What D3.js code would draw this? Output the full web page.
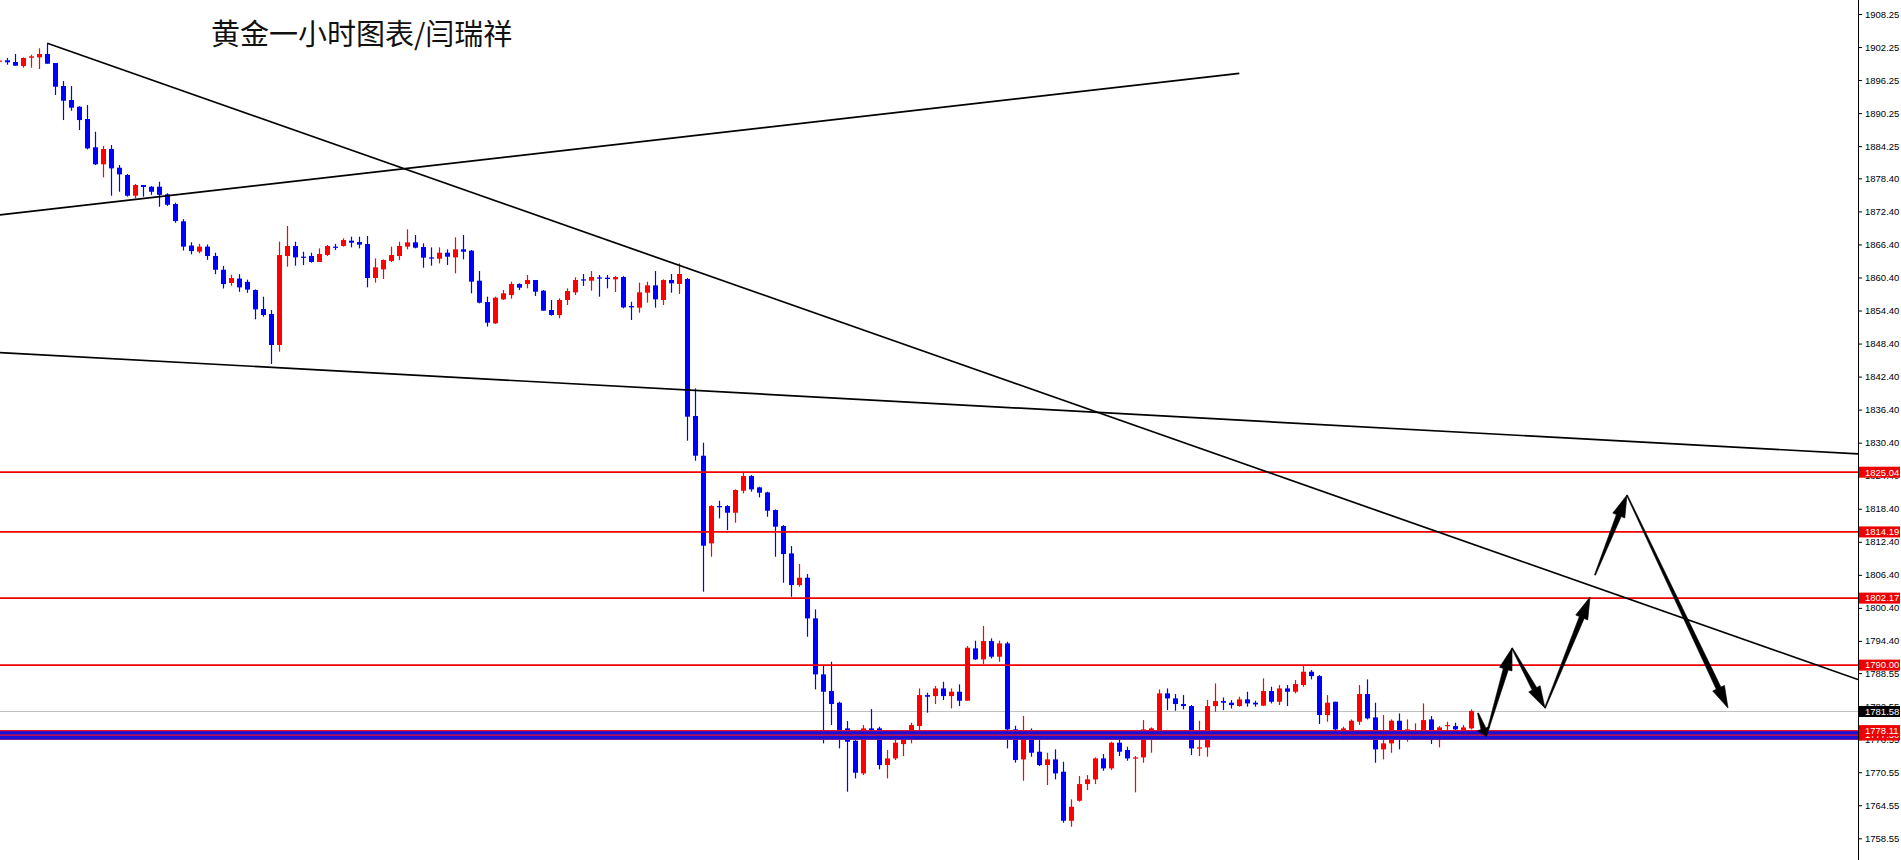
<!DOCTYPE html>
<html><head><meta charset="utf-8">
<script src="https://cdn.jsdelivr.net/npm/d3@7"></script>
<style>html,body{margin:0;padding:0;background:#fff;overflow:hidden}</style>
</head><body>
<svg id="chart" width="1901" height="860"></svg>
<script>
// ---------- DATA (XAUUSD H1) ----------
const title = "黄金一小时图表/闫瑞祥";
const opens = [1899.6,1899.84,1899.53,1898.8,1900.31,1900.38,1900.98,1899.35,1895.17,1892.63,
1891.41,1889.18,1884.04,1880.95,1883.73,1880.33,1879.01,1875.25,1877.19,1876.88,
1876.88,1875.5,1873.74,1870.6,1866.2,1865.1,1866.0,1864.3,1861.8,1859.4,
1860.2,1859.6,1858.12,1854.67,1853.76,1848.14,1864.30,1866.12,1864.18,1864.30,
1863.21,1864.48,1866.00,1866.12,1867.08,1866.84,1866.48,1860.30,1861.87,1863.39,
1864.30,1866.00,1866.78,1865.93,1864.05,1863.81,1864.90,1864.05,1865.51,1865.27,
1859.82,1855.94,1852.07,1856.43,1857.21,1859.21,1859.21,1859.94,1858.00,1854.49,
1853.58,1856.31,1857.70,1860.06,1859.82,1860.42,1860.36,1860.06,1860.48,1855.22,
1854.91,1857.64,1858.97,1856.31,1859.94,1859.21,1860.12,1835.24,1828.03,1812.11,
1818.89,1818.89,1817.68,1821.67,1824.34,1822.28,1821.37,1818.16,1815.26,1810.29,
1804.54,1805.87,1798.49,1788.32,1785.29,1783.17,1778.51,1776.27,1770.34,1778.51,
1778.51,1771.85,1773.06,1775.66,1776.57,1778.93,1784.56,1784.38,1785.77,1784.38,
1785.17,1783.53,1793.04,1791.04,1794.37,1791.53,1793.95,1778.33,1772.88,1777.90,
1774.27,1771.85,1772.88,1770.64,1761.74,1765.37,1768.40,1769.25,1773.06,1771.25,
1775.91,1774.58,1773.06,1773.24,1777.90,1777.90,1784.87,1783.96,1782.93,1782.57,
1774.88,1775.06,1782.57,1783.47,1783.17,1782.57,1783.78,1783.17,1782.63,1785.29,
1783.35,1785.77,1785.17,1786.38,1788.80,1788.01,1780.93,1783.35,1777.90,1778.09,
1779.72,1784.75,1780.50,1774.70,1775.79,1779.90,1776.51,1777.48,1777.72,1780.14,
1776.39,1778.93,1778.93,1777.48,1778.51];
const highs = [1900.0,1900.26,1900.98,1900.38,1900.86,1902.02,1902.93,1899.35,1896.08,1895.17,
1891.5,1891.72,1886.87,1884.27,1884.46,1880.82,1879.19,1877.37,1877.19,1877.0,
1877.79,1875.7,1873.98,1871.0,1866.8,1866.5,1866.4,1864.9,1862.5,1860.9,
1861.0,1860.0,1858.24,1856.91,1854.49,1866.90,1869.75,1866.90,1865.08,1864.90,
1865.69,1866.30,1866.48,1867.51,1867.81,1867.81,1867.93,1863.87,1863.69,1866.00,
1866.90,1869.14,1868.11,1866.60,1865.87,1865.87,1865.51,1867.69,1868.11,1865.39,
1861.57,1856.91,1856.91,1858.12,1859.64,1859.34,1860.85,1859.94,1858.12,1856.31,
1856.61,1858.43,1860.42,1861.03,1861.57,1860.85,1860.85,1860.66,1860.66,1856.00,
1859.46,1859.64,1861.57,1860.06,1861.03,1862.96,1860.3,1840.26,1830.39,1819.07,
1819.86,1819.07,1821.92,1825.13,1824.52,1822.40,1821.50,1818.28,1815.44,1811.62,
1808.36,1806.54,1800.12,1790.01,1790.62,1783.35,1779.84,1776.39,1779.12,1782.02,
1778.81,1774.58,1776.99,1777.48,1779.54,1785.77,1784.99,1786.20,1786.98,1785.77,
1786.50,1793.46,1794.43,1797.10,1794.86,1794.43,1794.25,1779.00,1780.75,1778.51,
1776.39,1774.09,1774.70,1772.46,1765.62,1769.85,1770.03,1773.24,1773.85,1776.09,
1776.69,1775.18,1773.48,1780.02,1778.69,1785.59,1785.77,1784.75,1784.56,1782.75,
1779.90,1783.66,1786.68,1784.14,1783.66,1784.26,1785.17,1783.53,1787.59,1786.08,
1786.38,1786.38,1787.29,1789.83,1789.10,1788.20,1784.56,1783.35,1778.81,1780.14,
1786.38,1787.41,1783.17,1780.93,1780.14,1781.23,1780.14,1779.42,1783.05,1780.75,
1778.93,1779.72,1779.54,1779.12,1781.96];
const lows = [1899.5,1899.04,1898.86,1898.5,1898.5,1898.26,1899.22,1893.54,1888.99,1890.68,
1887.18,1883.67,1880.82,1878.59,1875.25,1875.97,1875.07,1874.77,1875.07,1875.4,
1873.25,1873.4,1870.34,1865.3,1864.6,1864.8,1863.6,1861.0,1858.4,1858.9,
1857.8,1857.6,1852.80,1853.28,1844.69,1846.93,1862.36,1862.54,1862.66,1863.08,
1863.21,1864.30,1865.39,1866.00,1865.87,1865.69,1858.61,1859.46,1860.12,1863.21,
1863.57,1865.51,1865.69,1862.18,1862.54,1862.96,1862.66,1861.15,1863.69,1857.52,
1855.70,1851.47,1851.95,1856.31,1856.55,1858.12,1858.43,1857.03,1854.37,1853.46,
1852.98,1855.40,1857.21,1858.85,1858.00,1856.91,1858.43,1857.76,1854.79,1852.67,
1854.01,1855.82,1854.91,1855.40,1857.64,1857.40,1830.76,1827.12,1803.33,1809.69,
1816.65,1814.53,1815.86,1821.19,1821.50,1820.46,1816.95,1809.69,1804.97,1802.42,
1804.24,1795.16,1785.59,1775.79,1779.12,1774.88,1767.01,1769.43,1770.04,1777.90,
1771.06,1769.43,1772.76,1773.48,1775.79,1777.12,1781.36,1782.93,1783.66,1782.14,
1782.57,1783.53,1790.92,1790.19,1791.22,1790.62,1774.88,1772.28,1769.00,1773.36,
1771.67,1768.22,1769.25,1761.38,1760.65,1765.19,1767.31,1768.40,1770.82,1770.94,
1773.48,1772.64,1766.9,1772.27,1774.09,1777.72,1781.84,1781.72,1781.96,1773.67,
1773.49,1773.36,1781.54,1781.84,1782.14,1782.45,1782.45,1782.45,1782.57,1783.05,
1782.75,1782.57,1784.87,1786.08,1787.41,1779.30,1779.72,1778.20,1776.39,1777.30,
1779.12,1780.14,1772.27,1772.88,1774.09,1774.70,1776.09,1776.69,1777.12,1775.67,
1775.06,1778.20,1778.20,1777.30,1778.33];
const closes = [1899.8,1899.48,1898.86,1900.26,1900.56,1900.98,1899.22,1895.04,1892.5,1891.23,
1888.99,1883.85,1880.95,1883.73,1880.22,1879.13,1875.25,1877.19,1876.83,1875.97,
1875.4,1873.6,1870.65,1866.0,1865.2,1866.0,1864.3,1861.8,1859.2,1860.3,
1858.6,1858.2,1854.61,1853.58,1848.14,1864.48,1866.12,1864.05,1864.05,1863.21,
1864.66,1866.12,1865.87,1867.20,1866.72,1866.36,1860.30,1862.24,1863.57,1864.48,
1866.12,1866.78,1865.81,1863.99,1863.87,1864.90,1864.18,1865.51,1865.08,1859.64,
1855.82,1852.19,1856.73,1857.52,1859.21,1858.55,1859.94,1857.82,1854.37,1853.58,
1856.31,1857.94,1859.94,1859.94,1860.48,1860.24,1860.12,1860.48,1854.97,1854.97,
1857.70,1858.97,1856.43,1859.94,1859.34,1861.03,1835.12,1828.03,1811.69,1818.89,
1818.77,1817.68,1821.80,1824.34,1821.92,1821.31,1818.04,1815.14,1810.17,1804.54,
1805.87,1798.49,1788.32,1785.17,1782.93,1777.90,1776.09,1770.46,1778.51,1778.21,
1771.85,1773.06,1775.91,1776.69,1779.12,1784.56,1784.26,1785.77,1784.38,1785.17,
1783.53,1793.16,1791.04,1794.37,1791.53,1793.95,1778.33,1772.76,1777.90,1774.09,
1771.85,1772.88,1770.34,1761.74,1764.28,1768.40,1769.25,1773.06,1771.25,1775.91,
1774.27,1773.06,1773.24,1778.33,1778.51,1784.87,1783.96,1782.93,1782.57,1774.88,
1775.06,1782.57,1783.47,1783.17,1782.75,1783.78,1783.05,1782.87,1785.29,1783.35,
1785.77,1785.17,1786.56,1788.80,1788.01,1780.93,1783.17,1778.33,1778.51,1779.90,
1784.75,1780.33,1774.70,1775.79,1779.90,1776.51,1778.33,1777.72,1780.02,1776.39,
1778.69,1779.12,1778.33,1778.69,1781.66];

const tickValues = [1908.25,1902.25,1896.25,1890.25,1884.25,1878.40,1872.40,1866.40,1860.40,1854.40,
1848.40,1842.40,1836.40,1830.40,1824.40,1818.40,1812.40,1806.40,1800.40,1794.40,
1788.55,1782.55,1776.55,1770.55,1764.55,1758.55];
const resistanceLevels = [1825.04, 1814.19, 1802.17, 1790.00];
const supportLevels = [1778.11, 1777.30];
const bidPrice = 1781.58;
// trend lines: anchor points as (bar index, price)
const trendDown = [{i:6, p:1902.93}, {i:85, p:1862.6}];     // ray to the right
const trendUp = [{i:0, p:1871.74}, {i:155, p:1897.46}];     // segment
const trendFlat = [{i:0, p:1846.77}, {i:200, p:1830.93}];   // full-width line
// projected path arrows (bar index, price)
const arrowPoints = [
  {i:184.84, p:1781.29}, {i:185.84, p:1777.11}, {i:189.09, p:1793.10}, {i:193.21, p:1782.2},
  {i:198.84, p:1802.36}, {i:199.46, p:1806.36}, {i:203.46, p:1820.88}, {i:216.09, p:1782.2}
];
const arrowLinks = [[0,1],[1,2],[2,3],[3,4],[5,6],[6,7]];

// ---------- LAYOUT ----------
const W = 1901, H = 860, axisX = 1858;
const UP = "#ff0000", DOWN = "#0000ff";
const svg = d3.select("#chart");
const x = d3.scaleLinear().domain([0, 1]).range([-0.7, 7.3]);
const y = d3.scaleLinear().domain([1908.25, 1758.55]).range([14, 838.3]);

svg.append("rect").attr("width", W).attr("height", H).attr("fill", "#fff");
svg.append("defs").append("clipPath").attr("id", "plot")
  .append("rect").attr("x", 0).attr("y", 0).attr("width", axisX).attr("height", H);
const plot = svg.append("g").attr("clip-path", "url(#plot)");

// bid line (behind candles)
plot.append("line").attr("x1", 0).attr("x2", axisX)
  .attr("y1", Math.round(y(bidPrice)) + 0.5).attr("y2", Math.round(y(bidPrice)) + 0.5)
  .attr("stroke", "#c0c0c0").attr("stroke-width", 1);

// candles
const bars = d3.range(opens.length).map(i => ({i, o: opens[i], h: highs[i], l: lows[i], c: closes[i]}));
const cg = plot.append("g");
bars.forEach(b => {
  const cx = Math.round(x(b.i));
  const col = b.c >= b.o ? UP : DOWN;
  cg.append("line").attr("x1", cx + 0.5).attr("x2", cx + 0.5)
    .attr("y1", y(b.h)).attr("y2", y(b.l)).attr("stroke", col).attr("stroke-width", 1.2);
  const top = y(Math.max(b.o, b.c)), bot = y(Math.min(b.o, b.c));
  cg.append("rect").attr("x", cx - 2).attr("width", 5)
    .attr("y", top).attr("height", Math.max(1.2, bot - top)).attr("fill", col);
});

// support band
supportLevels.forEach(v => {
  plot.append("rect").attr("x", 0).attr("width", axisX)
    .attr("y", y(v)).attr("height", 4.4).attr("fill", "#1a10d8");
});
supportLevels.forEach(v => {
  plot.append("line").attr("x1", 0).attr("x2", axisX).attr("y1", y(v)).attr("y2", y(v))
    .attr("stroke", "#e8102a").attr("stroke-width", 1.3);
});
plot.append("line").attr("x1", 0).attr("x2", axisX)
  .attr("y1", y(supportLevels[1]) + 4.4).attr("y2", y(supportLevels[1]) + 4.4)
  .attr("stroke", "#7a1a8a").attr("stroke-width", 1);

// resistance lines
resistanceLevels.forEach(v => {
  plot.append("line").attr("x1", 0).attr("x2", axisX).attr("y1", y(v)).attr("y2", y(v))
    .attr("stroke", "#ee0000").attr("stroke-width", 1.8);
});

// trend lines
function lineAt(a, b) { const s = (b.p - a.p) / (b.i - a.i); return i => a.p + s * (i - a.i); }
const iLeft = x.invert(0), iRight = x.invert(axisX);
function drawTrend(pts, i0, i1) {
  const f = lineAt(pts[0], pts[1]);
  plot.append("line").attr("x1", x(i0)).attr("y1", y(f(i0))).attr("x2", x(i1)).attr("y2", y(f(i1)))
    .attr("stroke", "#000").attr("stroke-width", 1.7);
}
drawTrend(trendDown, trendDown[0].i, iRight);
drawTrend(trendUp, iLeft, trendUp[1].i);
drawTrend(trendFlat, iLeft, iRight);

// arrows
function arrowPoly(x0, y0, x1, y1) {
  const dx = x1 - x0, dy = y1 - y0, L = Math.hypot(dx, dy);
  const ux = dx / L, uy = dy / L, nx = -uy, ny = ux;
  const hl = Math.min(22, L * 0.32), hw = 6.5, tw = 0.5, sw = 2.6;
  const bx = x1 - ux * hl, by = y1 - uy * hl;
  const P = (px, py, k) => [px + nx * k, py + ny * k];
  return [P(x0, y0, tw), P(bx, by, sw), P(bx, by, hw), [x1, y1], P(bx, by, -hw), P(bx, by, -sw), P(x0, y0, -tw)];
}
arrowLinks.forEach(([a, b]) => {
  const A = arrowPoints[a], B = arrowPoints[b];
  plot.append("polygon")
    .attr("points", arrowPoly(x(A.i), y(A.p), x(B.i), y(B.p)).map(p => p.join(",")).join(" "))
    .attr("fill", "#000").attr("stroke", "#000").attr("stroke-width", 0.6).attr("stroke-linejoin", "round");
});

// right price axis
svg.append("line").attr("x1", axisX + 0.5).attr("x2", axisX + 0.5).attr("y1", 0).attr("y2", H)
  .attr("stroke", "#000").attr("stroke-width", 1);
const axis = d3.axisRight(y).tickValues(tickValues).tickFormat(d3.format(".2f")).tickSize(3).tickPadding(3);
const ag = svg.append("g").attr("transform", `translate(${axisX + 1},0)`).call(axis);
ag.select(".domain").remove();
ag.selectAll("text").attr("font-family", "Liberation Sans, Arial, sans-serif").attr("font-size", 9.5).attr("fill", "#000");
ag.selectAll("line").attr("stroke", "#000");

// price labels on the axis
function priceTag(v, bg) {
  const g = svg.append("g").attr("transform", `translate(${axisX + 1},${y(v)})`);
  g.append("rect").attr("x", 0).attr("y", -5.5).attr("width", 41).attr("height", 11).attr("fill", bg);
  g.append("text").attr("x", 6).attr("y", 0).attr("dy", "0.35em")
    .attr("font-family", "Liberation Sans, Arial, sans-serif").attr("font-size", 9.5).attr("fill", "#fff")
    .text(d3.format(".2f")(v));
}
resistanceLevels.forEach(v => priceTag(v, "#ee0000"));
[...supportLevels].reverse().forEach(v => priceTag(v, "#ee0000"));
priceTag(bidPrice, "#000");

// title
svg.append("text").attr("x", 211).attr("y", 32).attr("dominant-baseline", "central")
  .attr("font-family", "Noto Sans CJK SC, sans-serif").attr("font-size", 29).attr("fill", "#111")
  .text(title);
</script>
</body></html>
